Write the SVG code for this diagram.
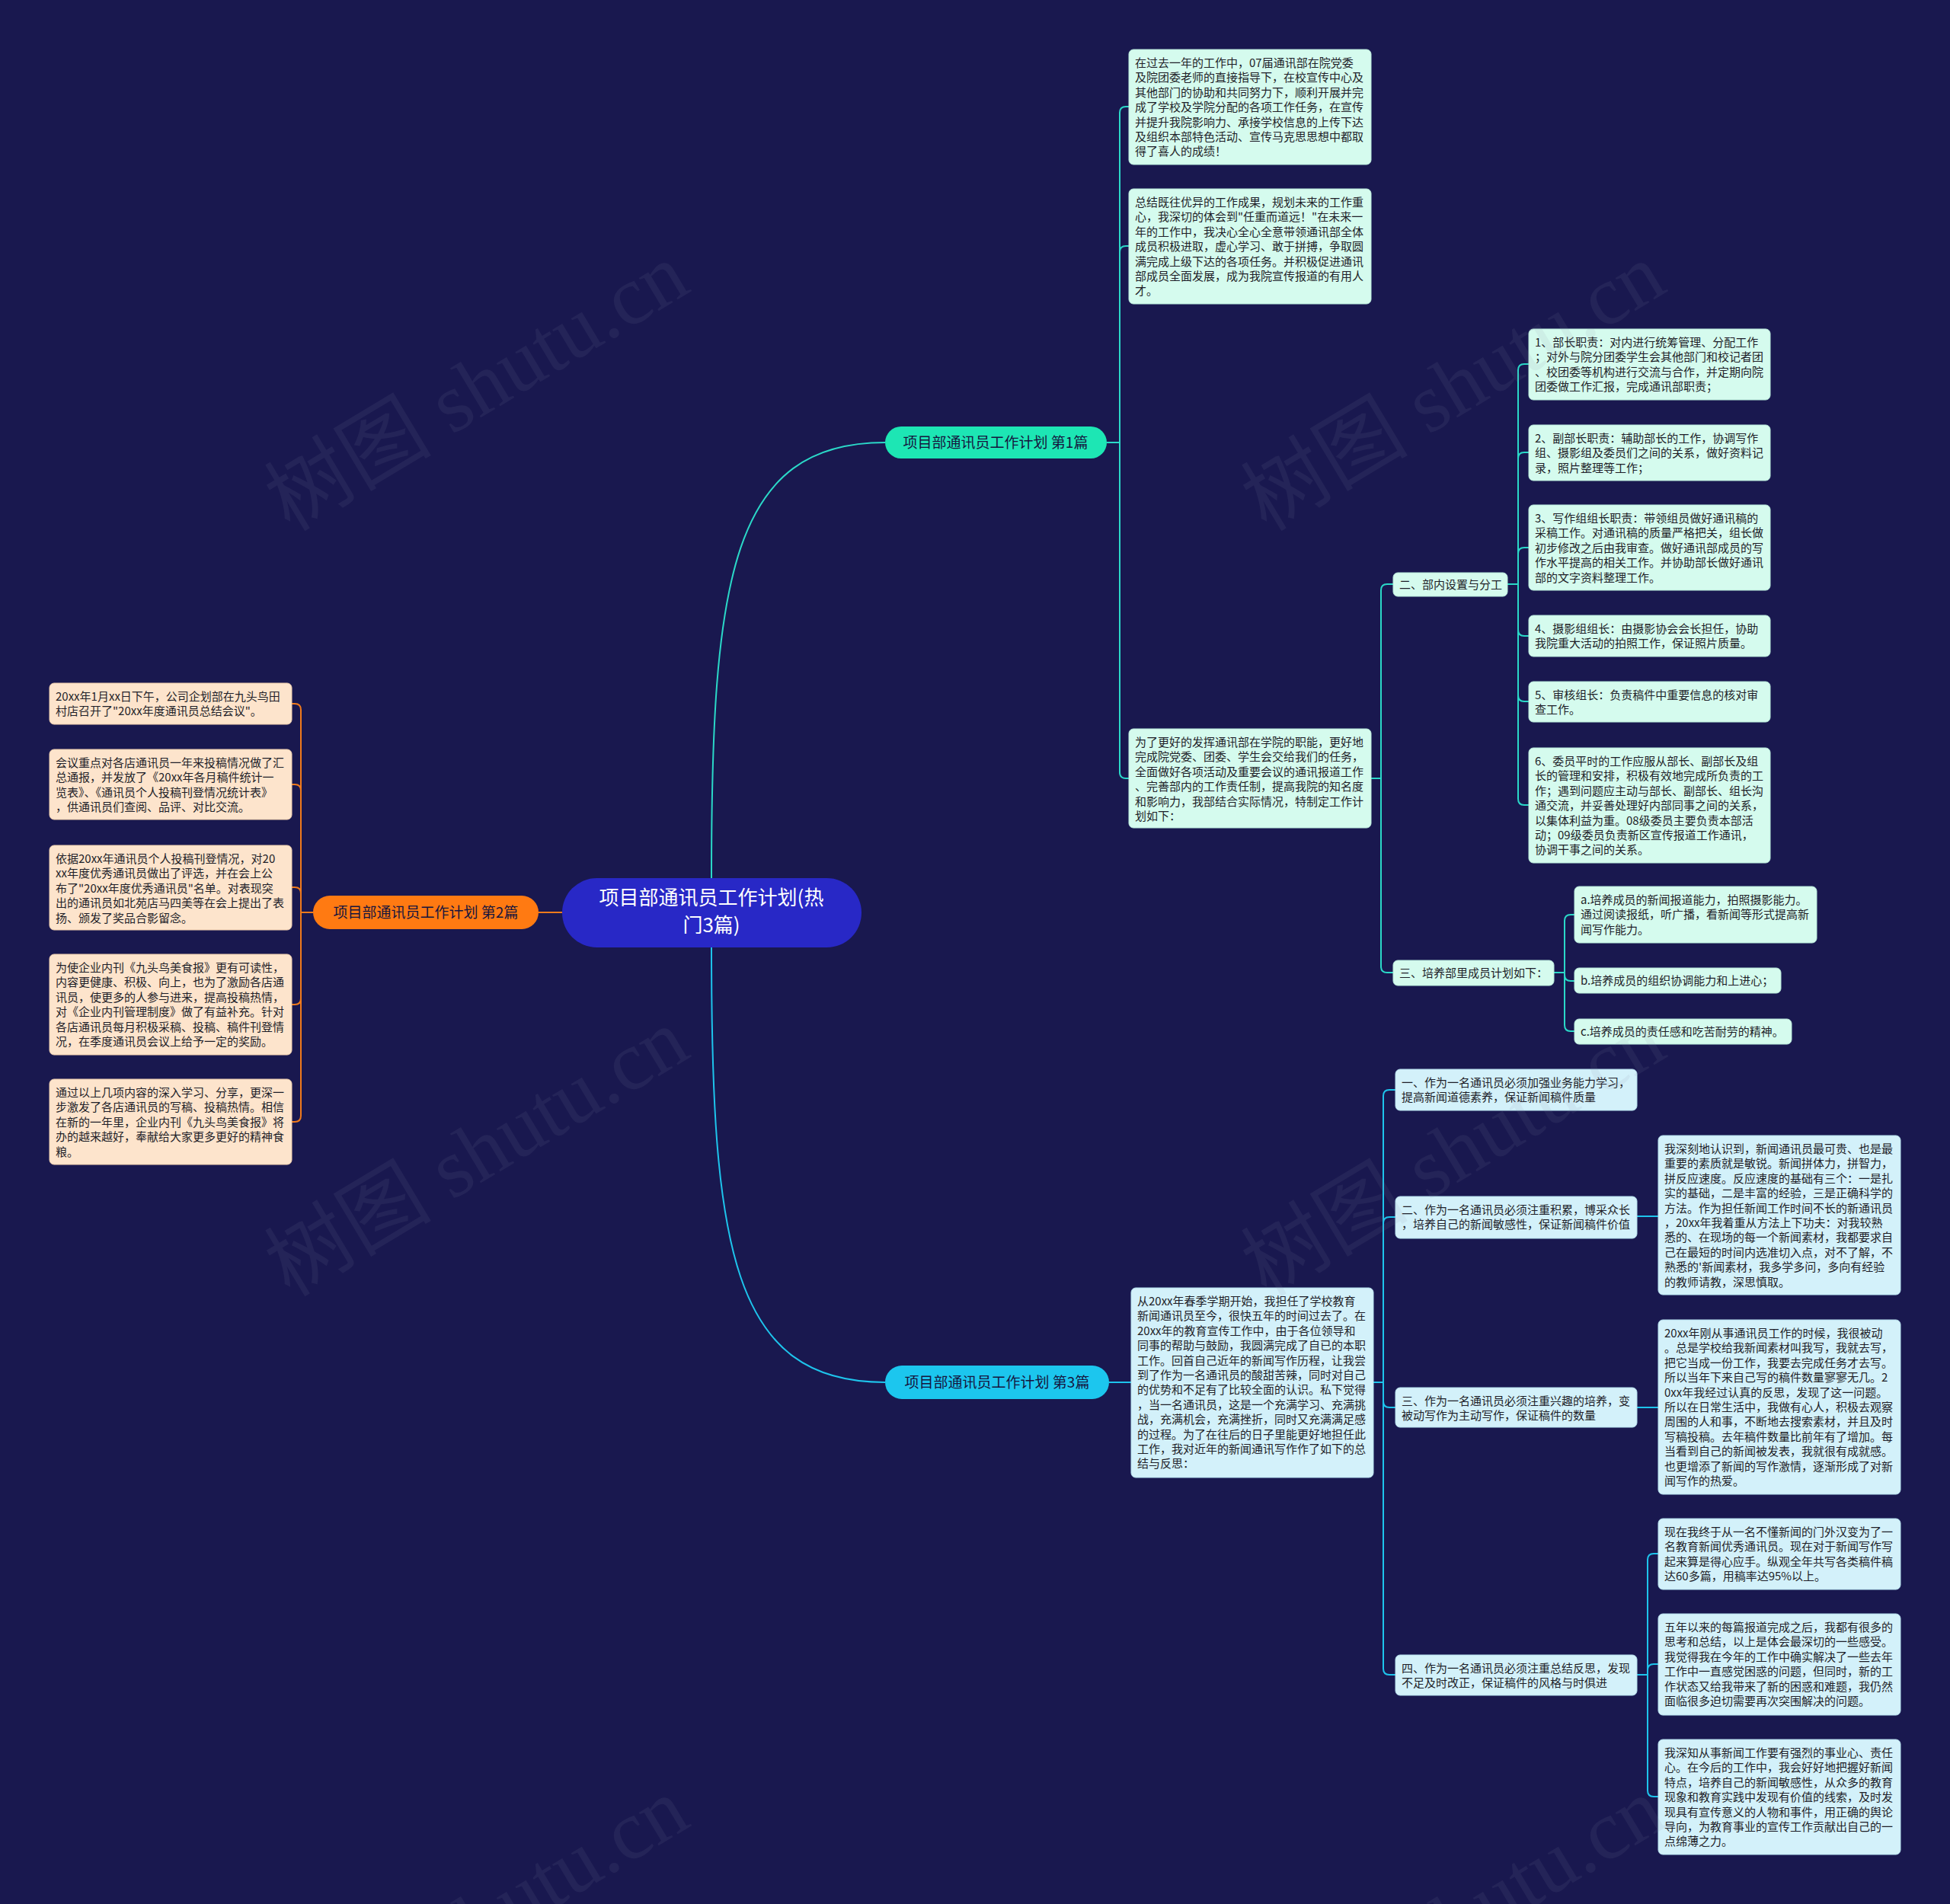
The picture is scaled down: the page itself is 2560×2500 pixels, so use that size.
<svg xmlns="http://www.w3.org/2000/svg" width="2560" height="2500" viewBox="0 0 2560 2500">
<style>
.t{font-family:"Noto Sans CJK SC","Noto Sans",sans-serif;font-size:15px;fill:#1e1e28}
.b1{fill:#d5fbee;stroke:#b9eadb;stroke-width:1}
.b2{fill:#fde4cc;stroke:#f0cfae;stroke-width:1}
.b3{fill:#d3f1fa;stroke:#b6e0ee;stroke-width:1}
.l1{fill:none;stroke:#2bd8c8;stroke-width:2}
.l2{fill:none;stroke:#f07a1c;stroke-width:2}
.l3{fill:none;stroke:#1ec4ec;stroke-width:2}
.bt{font-family:"Noto Sans CJK SC","Noto Sans",sans-serif;font-size:19px;fill:#15153e;text-anchor:middle}
.wm{font-family:"Liberation Serif","Noto Sans CJK SC",serif;font-size:110px;fill:#8a8aa8;opacity:0.1}
</style>
<rect width="2560" height="2500" fill="#19184f"/>

<g id="connectors">
<path class="l1" d="M934 1153 C934 760 960 581 1162 581"/>
<path class="l3" d="M934 1244 C934 1636 960 1815 1162 1815"/>
<path class="l2" d="M738 1198 H707"/>
<path class="l1" d="M1453 581 H1470 M1470 581 V148 Q1470 140 1478 140 H1482 M1470 581 V331 Q1470 323 1478 323 H1482 M1470 581 V1014 Q1470 1022 1478 1022 H1482"/>
<path class="l1" d="M1800 1022 H1813 M1813 1022 V775 Q1813 767 1821 767 H1829 M1813 1022 V1269 Q1813 1277 1821 1277 H1829"/>
<path class="l1" d="M1979 767 H1993 M1993 767 V486 Q1993 478 2001 478 H2007 M1993 767 V602 Q1993 594 2001 594 H2007 M1993 767 V727 Q1993 719 2001 719 H2007 M1993 767 V827 Q1993 835 2001 835 H2007 M1993 767 V913 Q1993 921 2001 921 H2007 M1993 767 V1049 Q1993 1057 2001 1057 H2007"/>
<path class="l1" d="M2040 1277 H2054 M2054 1277 V1209 Q2054 1201 2062 1201 H2067 M2054 1277 V1280 Q2054 1288 2062 1288 H2067 M2054 1277 V1346 Q2054 1354 2062 1354 H2067"/>
<path class="l3" d="M1456 1815 H1485"/>
<path class="l3" d="M1803 1815 H1816 M1816 1815 V1439 Q1816 1431 1824 1431 H1832 M1816 1815 V1606 Q1816 1598 1824 1598 H1832 M1816 1815 V1840 Q1816 1848 1824 1848 H1832 M1816 1815 V2191 Q1816 2199 1824 2199 H1832"/>
<path class="l3" d="M2149 1597 H2177 M2149 1848 H2177"/>
<path class="l3" d="M2149 2199 H2163 M2163 2199 V2048 Q2163 2040 2171 2040 H2177 M2163 2199 V2193 Q2163 2185 2171 2185 H2177 M2163 2199 V2351 Q2163 2359 2171 2359 H2177"/>
<path class="l2" d="M411 1198 H395 M395 1198 V932 Q395 924 387 924 H383 M395 1198 V1038 Q395 1030 387 1030 H383 M395 1198 V1173 Q395 1165 387 1165 H383 M395 1198 V1311 Q395 1319 387 1319 H383 M395 1198 V1465 Q395 1473 387 1473 H383"/>
</g>

<g id="root">
<rect x="738" y="1153" width="393" height="91" rx="45.5" fill="#2828c6"/>
<text font-family="Noto Sans CJK SC, Noto Sans, sans-serif" font-size="26" fill="#ffffff" text-anchor="middle"><tspan x="934" y="1188">项目部通讯员工作计划(热</tspan><tspan x="934" y="1224">门3篇)</tspan></text>
</g>

<g id="branch1">
<rect x="1162" y="560" width="291" height="42" rx="21" fill="#1de6b4"/>
<text class="bt" x="1307" y="588">项目部通讯员工作计划 第1篇</text>
</g>
<g id="branch2">
<rect x="411" y="1176" width="296" height="44" rx="22" fill="#ff7a12"/>
<text class="bt" x="559" y="1205">项目部通讯员工作计划 第2篇</text>
</g>
<g id="branch3">
<rect x="1162" y="1793" width="294" height="44" rx="22" fill="#1cc6ee"/>
<text class="bt" x="1309" y="1822">项目部通讯员工作计划 第3篇</text>
</g>

<g id="a1">
<rect class="b1" x="1482" y="65" width="318" height="151" rx="6"/>
<text class="t"><tspan x="1490" y="88">在过去一年的工作中，07届通讯部在院党委</tspan><tspan x="1490" y="107.4">及院团委老师的直接指导下，在校宣传中心及</tspan><tspan x="1490" y="126.8">其他部门的协助和共同努力下，顺利开展并完</tspan><tspan x="1490" y="146.2">成了学校及学院分配的各项工作任务，在宣传</tspan><tspan x="1490" y="165.6">并提升我院影响力、承接学校信息的上传下达</tspan><tspan x="1490" y="185">及组织本部特色活动、宣传马克思思想中都取</tspan><tspan x="1490" y="204.4">得了喜人的成绩！</tspan></text>
</g>
<g id="a2">
<rect class="b1" x="1482" y="248" width="318" height="151" rx="6"/>
<text class="t"><tspan x="1490" y="271">总结既往优异的工作成果，规划未来的工作重</tspan><tspan x="1490" y="290.4">心，我深切的体会到"任重而道远！"在未来一</tspan><tspan x="1490" y="309.8">年的工作中，我决心全心全意带领通讯部全体</tspan><tspan x="1490" y="329.2">成员积极进取，虚心学习、敢于拼搏，争取圆</tspan><tspan x="1490" y="348.6">满完成上级下达的各项任务。并积极促进通讯</tspan><tspan x="1490" y="368">部成员全面发展，成为我院宣传报道的有用人</tspan><tspan x="1490" y="387.4">才。</tspan></text>
</g>
<g id="a3">
<rect class="b1" x="1482" y="957" width="318" height="130" rx="6"/>
<text class="t"><tspan x="1490" y="980">为了更好的发挥通讯部在学院的职能，更好地</tspan><tspan x="1490" y="999.4">完成院党委、团委、学生会交给我们的任务，</tspan><tspan x="1490" y="1018.8">全面做好各项活动及重要会议的通讯报道工作</tspan><tspan x="1490" y="1038.2">、完善部内的工作责任制，提高我院的知名度</tspan><tspan x="1490" y="1057.6">和影响力，我部结合实际情况，特制定工作计</tspan><tspan x="1490" y="1077">划如下：</tspan></text>
</g>
<g id="b1">
<rect class="b1" x="1829" y="752" width="150" height="31" rx="6"/>
<text class="t" x="1837" y="773">二、部内设置与分工</text>
</g>
<g id="b2">
<rect class="b1" x="1829" y="1261" width="211" height="33" rx="6"/>
<text class="t" x="1837" y="1283">三、培养部里成员计划如下：</text>
</g>
<g id="c1">
<rect class="b1" x="2007" y="432" width="317" height="93" rx="6"/>
<text class="t"><tspan x="2015" y="455">1、部长职责：对内进行统筹管理、分配工作</tspan><tspan x="2015" y="474.4">；对外与院分团委学生会其他部门和校记者团</tspan><tspan x="2015" y="493.8">、校团委等机构进行交流与合作，并定期向院</tspan><tspan x="2015" y="513.2">团委做工作汇报，完成通讯部职责；</tspan></text>
</g>
<g id="c2">
<rect class="b1" x="2007" y="558" width="317" height="73" rx="6"/>
<text class="t"><tspan x="2015" y="581">2、副部长职责：辅助部长的工作，协调写作</tspan><tspan x="2015" y="600.4">组、摄影组及委员们之间的关系，做好资料记</tspan><tspan x="2015" y="619.8">录，照片整理等工作；</tspan></text>
</g>
<g id="c3">
<rect class="b1" x="2007" y="663" width="317" height="112" rx="6"/>
<text class="t"><tspan x="2015" y="686">3、写作组组长职责：带领组员做好通讯稿的</tspan><tspan x="2015" y="705.4">采稿工作。对通讯稿的质量严格把关，组长做</tspan><tspan x="2015" y="724.8">初步修改之后由我审查。做好通讯部成员的写</tspan><tspan x="2015" y="744.2">作水平提高的相关工作。并协助部长做好通讯</tspan><tspan x="2015" y="763.6">部的文字资料整理工作。</tspan></text>
</g>
<g id="c4">
<rect class="b1" x="2007" y="808" width="317" height="54" rx="6"/>
<text class="t"><tspan x="2015" y="831">4、摄影组组长：由摄影协会会长担任，协助</tspan><tspan x="2015" y="850.4">我院重大活动的拍照工作，保证照片质量。</tspan></text>
</g>
<g id="c5">
<rect class="b1" x="2007" y="895" width="317" height="53" rx="6"/>
<text class="t"><tspan x="2015" y="918">5、审核组长：负责稿件中重要信息的核对审</tspan><tspan x="2015" y="937.4">查工作。</tspan></text>
</g>
<g id="c6">
<rect class="b1" x="2007" y="982" width="317" height="151" rx="6"/>
<text class="t"><tspan x="2015" y="1005">6、委员平时的工作应服从部长、副部长及组</tspan><tspan x="2015" y="1024.4">长的管理和安排，积极有效地完成所负责的工</tspan><tspan x="2015" y="1043.8">作；遇到问题应主动与部长、副部长、组长沟</tspan><tspan x="2015" y="1063.2">通交流，并妥善处理好内部同事之间的关系，</tspan><tspan x="2015" y="1082.6">以集体利益为重。08级委员主要负责本部活</tspan><tspan x="2015" y="1102">动；09级委员负责新区宣传报道工作通讯，</tspan><tspan x="2015" y="1121.4">协调干事之间的关系。</tspan></text>
</g>
<g id="d1">
<rect class="b1" x="2067" y="1164" width="318" height="74" rx="6"/>
<text class="t"><tspan x="2075" y="1187">a.培养成员的新闻报道能力，拍照摄影能力。</tspan><tspan x="2075" y="1206.4">通过阅读报纸，听广播，看新闻等形式提高新</tspan><tspan x="2075" y="1225.8">闻写作能力。</tspan></text>
</g>
<g id="d2">
<rect class="b1" x="2067" y="1271" width="271" height="33" rx="6"/>
<text class="t" x="2075" y="1293">b.培养成员的组织协调能力和上进心；</text>
</g>
<g id="d3">
<rect class="b1" x="2067" y="1338" width="285" height="33" rx="6"/>
<text class="t" x="2075" y="1360">c.培养成员的责任感和吃苦耐劳的精神。</text>
</g>

<g id="h1">
<rect class="b2" x="65" y="897" width="318" height="54" rx="6"/>
<text class="t"><tspan x="73" y="920">20xx年1月xx日下午，公司企划部在九头鸟田</tspan><tspan x="73" y="939.4">村店召开了"20xx年度通讯员总结会议"。</tspan></text>
</g>
<g id="h2">
<rect class="b2" x="65" y="984" width="318" height="92" rx="6"/>
<text class="t"><tspan x="73" y="1007">会议重点对各店通讯员一年来投稿情况做了汇</tspan><tspan x="73" y="1026.4">总通报，并发放了《20xx年各月稿件统计一</tspan><tspan x="73" y="1045.8">览表》、《通讯员个人投稿刊登情况统计表》</tspan><tspan x="73" y="1065.2">，供通讯员们查阅、品评、对比交流。</tspan></text>
</g>
<g id="h3">
<rect class="b2" x="65" y="1110" width="318" height="111" rx="6"/>
<text class="t"><tspan x="73" y="1133">依据20xx年通讯员个人投稿刊登情况，对20</tspan><tspan x="73" y="1152.4">xx年度优秀通讯员做出了评选，并在会上公</tspan><tspan x="73" y="1171.8">布了"20xx年度优秀通讯员"名单。对表现突</tspan><tspan x="73" y="1191.2">出的通讯员如北苑店马四美等在会上提出了表</tspan><tspan x="73" y="1210.6">扬、颁发了奖品合影留念。</tspan></text>
</g>
<g id="h4">
<rect class="b2" x="65" y="1253" width="318" height="132" rx="6"/>
<text class="t"><tspan x="73" y="1276">为使企业内刊《九头鸟美食报》更有可读性，</tspan><tspan x="73" y="1295.4">内容更健康、积极、向上，也为了激励各店通</tspan><tspan x="73" y="1314.8">讯员，使更多的人参与进来，提高投稿热情，</tspan><tspan x="73" y="1334.2">对《企业内刊管理制度》做了有益补充。针对</tspan><tspan x="73" y="1353.6">各店通讯员每月积极采稿、投稿、稿件刊登情</tspan><tspan x="73" y="1373">况，在季度通讯员会议上给予一定的奖励。</tspan></text>
</g>
<g id="h5">
<rect class="b2" x="65" y="1417" width="318" height="112" rx="6"/>
<text class="t"><tspan x="73" y="1440">通过以上几项内容的深入学习、分享，更深一</tspan><tspan x="73" y="1459.4">步激发了各店通讯员的写稿、投稿热情。相信</tspan><tspan x="73" y="1478.8">在新的一年里，企业内刊《九头鸟美食报》将</tspan><tspan x="73" y="1498.2">办的越来越好，奉献给大家更多更好的精神食</tspan><tspan x="73" y="1517.6">粮。</tspan></text>
</g>

<g id="e0">
<rect class="b3" x="1485" y="1691" width="318" height="249" rx="6"/>
<text class="t"><tspan x="1493" y="1714">从20xx年春季学期开始，我担任了学校教育</tspan><tspan x="1493" y="1733.4">新闻通讯员至今，很快五年的时间过去了。在</tspan><tspan x="1493" y="1752.8">20xx年的教育宣传工作中，由于各位领导和</tspan><tspan x="1493" y="1772.2">同事的帮助与鼓励，我圆满完成了自已的本职</tspan><tspan x="1493" y="1791.6">工作。回首自己近年的新闻写作历程，让我尝</tspan><tspan x="1493" y="1811">到了作为一名通讯员的酸甜苦辣，同时对自己</tspan><tspan x="1493" y="1830.4">的优势和不足有了比较全面的认识。私下觉得</tspan><tspan x="1493" y="1849.8">，当一名通讯员，这是一个充满学习、充满挑</tspan><tspan x="1493" y="1869.2">战，充满机会，充满挫折，同时又充满满足感</tspan><tspan x="1493" y="1888.6">的过程。为了在往后的日子里能更好地担任此</tspan><tspan x="1493" y="1908">工作，我对近年的新闻通讯写作作了如下的总</tspan><tspan x="1493" y="1927.4">结与反思：</tspan></text>
</g>
<g id="f1">
<rect class="b3" x="1832" y="1404" width="317" height="54" rx="6"/>
<text class="t"><tspan x="1840" y="1427">一、作为一名通讯员必须加强业务能力学习，</tspan><tspan x="1840" y="1446.4">提高新闻道德素养，保证新闻稿件质量</tspan></text>
</g>
<g id="f2">
<rect class="b3" x="1832" y="1571" width="317" height="55" rx="6"/>
<text class="t"><tspan x="1840" y="1594">二、作为一名通讯员必须注重积累，博采众长</tspan><tspan x="1840" y="1613.4">，培养自己的新闻敏感性，保证新闻稿件价值</tspan></text>
</g>
<g id="f3">
<rect class="b3" x="1832" y="1822" width="317" height="52" rx="6"/>
<text class="t"><tspan x="1840" y="1845">三、作为一名通讯员必须注重兴趣的培养，变</tspan><tspan x="1840" y="1864.4">被动写作为主动写作，保证稿件的数量</tspan></text>
</g>
<g id="f4">
<rect class="b3" x="1832" y="2173" width="317" height="53" rx="6"/>
<text class="t"><tspan x="1840" y="2196">四、作为一名通讯员必须注重总结反思，发现</tspan><tspan x="1840" y="2215.4">不足及时改正，保证稿件的风格与时俱进</tspan></text>
</g>
<g id="g1">
<rect class="b3" x="2177" y="1491" width="318" height="209" rx="6"/>
<text class="t"><tspan x="2185" y="1514">我深刻地认识到，新闻通讯员最可贵、也是最</tspan><tspan x="2185" y="1533.4">重要的素质就是敏锐。新闻拼体力，拼智力，</tspan><tspan x="2185" y="1552.8">拼反应速度。反应速度的基础有三个：一是扎</tspan><tspan x="2185" y="1572.2">实的基础，二是丰富的经验，三是正确科学的</tspan><tspan x="2185" y="1591.6">方法。作为担任新闻工作时间不长的新通讯员</tspan><tspan x="2185" y="1611">，20xx年我着重从方法上下功夫：对我较熟</tspan><tspan x="2185" y="1630.4">悉的、在现场的每一个新闻素材，我都要求自</tspan><tspan x="2185" y="1649.8">己在最短的时间内选准切入点，对不了解，不</tspan><tspan x="2185" y="1669.2">熟悉的'新闻素材，我多学多问，多向有经验</tspan><tspan x="2185" y="1688.6">的教师请教，深思慎取。</tspan></text>
</g>
<g id="g2">
<rect class="b3" x="2177" y="1733" width="318" height="229" rx="6"/>
<text class="t"><tspan x="2185" y="1756">20xx年刚从事通讯员工作的时候，我很被动</tspan><tspan x="2185" y="1775.4">。总是学校给我新闻素材叫我写，我就去写，</tspan><tspan x="2185" y="1794.8">把它当成一份工作，我要去完成任务才去写。</tspan><tspan x="2185" y="1814.2">所以当年下来自己写的稿件数量寥寥无几。2</tspan><tspan x="2185" y="1833.6">0xx年我经过认真的反思，发现了这一问题。</tspan><tspan x="2185" y="1853">所以在日常生活中，我做有心人，积极去观察</tspan><tspan x="2185" y="1872.4">周围的人和事，不断地去搜索素材，并且及时</tspan><tspan x="2185" y="1891.8">写稿投稿。去年稿件数量比前年有了增加。每</tspan><tspan x="2185" y="1911.2">当看到自己的新闻被发表，我就很有成就感。</tspan><tspan x="2185" y="1930.6">也更增添了新闻的写作激情，逐渐形成了对新</tspan><tspan x="2185" y="1950">闻写作的热爱。</tspan></text>
</g>
<g id="g3">
<rect class="b3" x="2177" y="1994" width="318" height="93" rx="6"/>
<text class="t"><tspan x="2185" y="2017">现在我终于从一名不懂新闻的门外汉变为了一</tspan><tspan x="2185" y="2036.4">名教育新闻优秀通讯员。现在对于新闻写作写</tspan><tspan x="2185" y="2055.8">起来算是得心应手。纵观全年共写各类稿件稿</tspan><tspan x="2185" y="2075.2">达60多篇，用稿率达95%以上。</tspan></text>
</g>
<g id="g4">
<rect class="b3" x="2177" y="2119" width="318" height="133" rx="6"/>
<text class="t"><tspan x="2185" y="2142">五年以来的每篇报道完成之后，我都有很多的</tspan><tspan x="2185" y="2161.4">思考和总结，以上是体会最深切的一些感受。</tspan><tspan x="2185" y="2180.8">我觉得我在今年的工作中确实解决了一些去年</tspan><tspan x="2185" y="2200.2">工作中一直感觉困惑的问题，但同时，新的工</tspan><tspan x="2185" y="2219.6">作状态又给我带来了新的困惑和难题，我仍然</tspan><tspan x="2185" y="2239">面临很多迫切需要再次突围解决的问题。</tspan></text>
</g>
<g id="g5">
<rect class="b3" x="2177" y="2284" width="318" height="151" rx="6"/>
<text class="t"><tspan x="2185" y="2307">我深知从事新闻工作要有强烈的事业心、责任</tspan><tspan x="2185" y="2326.4">心。在今后的工作中，我会好好地把握好新闻</tspan><tspan x="2185" y="2345.8">特点，培养自己的新闻敏感性，从众多的教育</tspan><tspan x="2185" y="2365.2">现象和教育实践中发现有价值的线索，及时发</tspan><tspan x="2185" y="2384.6">现具有宣传意义的人物和事件，用正确的舆论</tspan><tspan x="2185" y="2404">导向，为教育事业的宣传工作贡献出自己的一</tspan><tspan x="2185" y="2423.4">点绵薄之力。</tspan></text>
</g>

<g id="watermarks">
<text class="wm" text-anchor="middle" transform="translate(645,540) rotate(-31)">树图 shutu.cn</text>
<text class="wm" text-anchor="middle" transform="translate(645,1545) rotate(-31)">树图 shutu.cn</text>
<text class="wm" text-anchor="middle" transform="translate(1927,540) rotate(-31)">树图 shutu.cn</text>
<text class="wm" text-anchor="middle" transform="translate(1927,1545) rotate(-31)">树图 shutu.cn</text>
<text class="wm" text-anchor="middle" transform="translate(645,2555) rotate(-31)">树图 shutu.cn</text>
<text class="wm" text-anchor="middle" transform="translate(1927,2555) rotate(-31)">树图 shutu.cn</text>
</g>
</svg>
